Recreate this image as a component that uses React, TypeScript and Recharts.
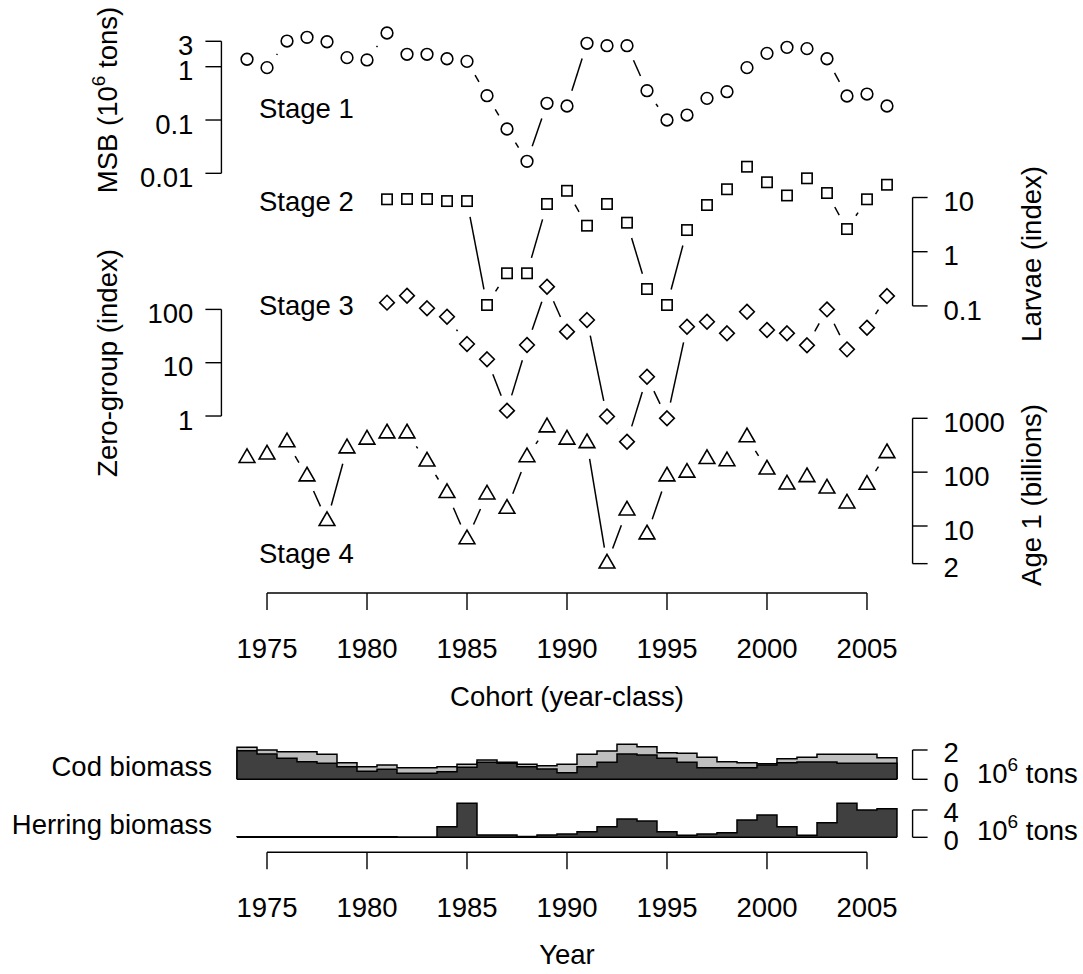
import React from 'react';
import { ComposedChart, Line, Area, XAxis, YAxis, ReferenceLine } from 'recharts';

// ---------- data ----------
const years = [1974, 1975, 1976, 1977, 1978, 1979, 1980, 1981, 1982, 1983, 1984, 1985, 1986, 1987, 1988, 1989, 1990,
  1991, 1992, 1993, 1994, 1995, 1996, 1997, 1998, 1999, 2000, 2001, 2002, 2003, 2004, 2005, 2006];
const laterYears = [1981, 1982, 1983, 1984, 1985, 1986, 1987, 1988, 1989, 1990, 1991, 1992, 1993, 1994, 1995, 1996,
  1997, 1998, 1999, 2000, 2001, 2002, 2003, 2004, 2005, 2006];

// Stage 1: mature stock biomass (10^6 tons)
const msb = [1.38, 0.96, 3.03, 3.56, 2.94, 1.48, 1.34, 4.29, 1.71, 1.71, 1.41, 1.26, 0.286, 0.0678, 0.0168, 0.206,
  0.183, 2.75, 2.48, 2.48, 0.355, 0.1, 0.124, 0.255, 0.34, 0.96, 1.78, 2.31, 2.18, 1.41, 0.282, 0.307, 0.183];
// Stage 2: larvae index (1981-2006)
const larvae = [9.27, 9.38, 9.38, 8.6, 8.6, 0.104, 0.4, 0.4, 7.6, 13.3, 3.02, 7.6, 3.43, 0.205, 0.104, 2.51, 7.27,
  14.2, 37, 19.1, 10.9, 22.6, 12.1, 2.62, 9.27, 17.2];
// Stage 3: zero-group index (1981-2006)
const zeroGroup = [134, 181, 105, 73, 22.4, 11.6, 1.26, 21.5, 267, 38.2, 63.2, 0.98, 0.33, 5.46, 0.905, 47.3, 58.8,
  35.6, 90.5, 41.1, 35.6, 21.2, 100, 17.8, 45.4, 178];
// Stage 4: age 1 (billions)
const age1 = [184, 213, 359, 83.6, 12.4, 277, 403, 525, 525, 158, 41, 5.7, 38.6, 20.9, 190, 681, 403, 346, 2.01,
  19.5, 7.0, 83.6, 98, 176, 160, 445, 112, 59, 81, 49.7, 26.3, 58.4, 226];

// Bottom panels (10^6 tons)
const codTotal = [2.18, 2.0, 1.88, 1.88, 1.71, 1.13, 0.86, 0.98, 0.79, 0.79, 0.86, 1.02, 1.32, 1.16, 1.02, 0.93,
  1.02, 1.71, 1.93, 2.39, 2.23, 1.82, 1.77, 1.5, 1.2, 1.13, 1.06, 1.41, 1.5, 1.71, 1.71, 1.71, 1.47];
const codMature = [1.95, 1.73, 1.43, 1.2, 1.09, 0.86, 0.55, 0.68, 0.41, 0.41, 0.52, 0.82, 1.16, 1.09, 0.86, 0.7,
  0.45, 0.86, 1.16, 1.73, 1.66, 1.43, 1.16, 0.79, 0.79, 0.79, 0.98, 1.13, 1.18, 1.18, 1.09, 1.09, 1.09];
const herring = [0.07, 0.07, 0.07, 0.07, 0.07, 0.07, 0.07, 0.07, 0.01, 0.01, 1.55, 4.98, 0.34, 0.34, 0.1, 0.34,
  0.48, 0.82, 1.55, 2.68, 2.39, 0.82, 0.29, 0.48, 0.67, 2.53, 3.26, 1.55, 0.29, 2.14, 4.98, 4.0, 4.19];

// tick labels
const xTicks = [1975, 1980, 1985, 1990, 1995, 2000, 2005];
const msbTicks = [0.01, 0.1, 1, 3];
const larvaeTicks = [0.1, 1, 10];
const zeroTicks = [1, 10, 100];
const age1Ticks = [2, 10, 100, 1000];
const codTicks = [0, 2];
const herringTicks = [0, 4];

// ---------- axis configuration ----------
const XMIN = 1972.72;
const XMAX = 2007.28;
const S1_DOMAIN = [1.34e-10, 7.52];
const S2_DOMAIN = [5.05e-7, 18836];
const S3_DOMAIN = [4.78e-4, 2.69e7];
const S4_DOMAIN = [0.57, 2.49e10];
const COD_DOMAIN = [-4.983, 3.024];
const HER_DOMAIN = [-2.196, 14.978];

const FONT = '"Liberation Sans", Arial, Helvetica, sans-serif';
const FS = 27.5;
const INK = '#000';
const GAP = 16;
const R0 = 5.85;
const AXW = 0.01;

const series = (xs: number[], vs: number[]) => xs.map((year, i) => ({ year, v: vs[i] }));
const stage1Data = series(years, msb);
const stage2Data = series(laterYears, larvae);
const stage3Data = series(laterYears, zeroGroup);
const stage4Data = series(years, age1);

const stepRows = (vs: number[]) => {
  const rows = [{ year: years[0] - 0.5, v: 0 }];
  years.forEach((y, i) => rows.push({ year: y - 0.5, v: vs[i] }));
  const last = years[years.length - 1] + 0.5;
  rows.push({ year: last, v: vs[vs.length - 1] });
  rows.push({ year: last, v: 0 });
  return rows;
};
const codTotalSteps = stepRows(codTotal);
const codMatureSteps = stepRows(codMature);
const herringSteps = stepRows(herring);

// ---------- markers ----------
type Kind = 'circle' | 'square' | 'diamond' | 'triangle';

function marker(kind: Kind, x: number, y: number) {
  const c = { fill: 'none', stroke: INK, strokeWidth: 1.6 };
  if (kind === 'circle') return <circle cx={x} cy={y} r={R0} {...c} />;
  if (kind === 'square') {
    const h = R0 * 0.886;
    return <rect x={x - h} y={y - h} width={2 * h} height={2 * h} {...c} />;
  }
  if (kind === 'diamond') {
    const h = R0 * 1.253;
    return <polygon points={`${x},${y - h} ${x + h},${y} ${x},${y + h} ${x - h},${y}`} {...c} />;
  }
  const t0 = R0 * 1.5551, t1 = R0 * 1.3468, t2 = R0 * 0.7776;
  return <polygon points={`${x},${y - t0} ${x + t1},${y + t2} ${x - t1},${y + t2}`} {...c} />;
}

function makeDot(kind: Kind) {
  const seen: Array<{ x: number; y: number } | undefined> = [];
  return (props: any) => {
    const { cx, cy, index } = props;
    const key = `${kind}-${index}`;
    if (typeof cx !== 'number' || typeof cy !== 'number' || isNaN(cx) || isNaN(cy)) return <g key={key} />;
    seen[index] = { x: cx, y: cy };
    const pts = props.points;
    let prev: any = undefined;
    if (index > 0) {
      prev = pts && pts[index - 1] && typeof pts[index - 1].x === 'number' ? pts[index - 1] : seen[index - 1];
    }
    let seg = null;
    if (prev) {
      const dx = cx - prev.x, dy = cy - prev.y;
      const d = Math.hypot(dx, dy);
      if (d > 2 * GAP) {
        const ux = dx / d, uy = dy / d;
        seg = (
          <line x1={prev.x + ux * GAP} y1={prev.y + uy * GAP} x2={cx - ux * GAP} y2={cy - uy * GAP}
            stroke={INK} strokeWidth={1.5} />
        );
      }
    }
    return <g key={key}>{seg}{marker(kind, cx, cy)}</g>;
  };
}
const dotCircle = makeDot('circle');
const dotSquare = makeDot('square');
const dotDiamond = makeDot('diamond');
const dotTriangle = makeDot('triangle');

// ---------- ticks ----------
const LeftTick = (p: any) => (
  <text x={p.x} y={p.y} dy="0.5em" textAnchor="end" fontFamily={FONT} fontSize={FS} fill={INK}>
    {p.payload.value}
  </text>
);
const RightTick = (p: any) => (
  <text x={p.x} y={p.y} dy="0.5em" textAnchor="start" fontFamily={FONT} fontSize={FS} fill={INK}>
    {p.payload.value}
  </text>
);
const RightTickLow = (p: any) => (
  <text x={p.x} y={p.y} dy="0.45em" textAnchor="start" fontFamily={FONT} fontSize={FS} fill={INK}>
    {p.payload.value}
  </text>
);
const BottomTick = (p: any) => (
  <text x={p.x} y={p.y} dy="0.72em" textAnchor="middle" fontFamily={FONT} fontSize={FS} fill={INK}>
    {p.payload.value}
  </text>
);

const tl = { stroke: INK, strokeWidth: 1.4 };

function MainChart() {
  const yCommon = {
    type: 'number' as const,
    scale: 'log' as const,
    allowDataOverflow: true,
    interval: 0 as const,
    width: AXW,
    axisLine: false,
    tickLine: tl,
    tickSize: 16,
  };
  return (
    <ComposedChart width={1083} height={700} margin={{ top: 20, right: 170.4, bottom: 47, left: 221.4 }} data={stage1Data}>
      <XAxis dataKey="year" type="number" domain={[XMIN, XMAX]} allowDataOverflow ticks={xTicks} interval={0}
        axisLine={false} tickLine={tl} tickSize={17} tickMargin={28} tick={BottomTick} height={60} />
      <YAxis yAxisId="s1" orientation="left" domain={S1_DOMAIN} ticks={msbTicks} tickMargin={12} tick={LeftTick} {...yCommon} />
      <YAxis yAxisId="s3" orientation="left" domain={S3_DOMAIN} ticks={zeroTicks} tickMargin={12} tick={LeftTick} {...yCommon} />
      <YAxis yAxisId="s2" orientation="right" domain={S2_DOMAIN} ticks={larvaeTicks} tickMargin={16} tick={RightTick} {...yCommon} tickSize={15} />
      <YAxis yAxisId="s4" orientation="right" domain={S4_DOMAIN} ticks={age1Ticks} tickMargin={16} tick={RightTick} {...yCommon} tickSize={15} />

      <ReferenceLine yAxisId="s4" segment={[{ x: xTicks[0], y: S4_DOMAIN[0] }, { x: xTicks[xTicks.length - 1], y: S4_DOMAIN[0] }]} stroke={INK} strokeWidth={1.4} ifOverflow="visible" />
      <ReferenceLine yAxisId="s1" segment={[{ x: XMIN, y: msbTicks[0] }, { x: XMIN, y: msbTicks[msbTicks.length - 1] }]} stroke={INK} strokeWidth={1.4} ifOverflow="visible" />
      <ReferenceLine yAxisId="s3" segment={[{ x: XMIN, y: zeroTicks[0] }, { x: XMIN, y: zeroTicks[zeroTicks.length - 1] }]} stroke={INK} strokeWidth={1.4} ifOverflow="visible" />
      <ReferenceLine yAxisId="s2" segment={[{ x: XMAX, y: larvaeTicks[0] }, { x: XMAX, y: larvaeTicks[larvaeTicks.length - 1] }]} stroke={INK} strokeWidth={1.4} ifOverflow="visible" />
      <ReferenceLine yAxisId="s4" segment={[{ x: XMAX, y: age1Ticks[0] }, { x: XMAX, y: age1Ticks[age1Ticks.length - 1] }]} stroke={INK} strokeWidth={1.4} ifOverflow="visible" />

      <Line yAxisId="s1" data={stage1Data} dataKey="v" stroke="none" dot={dotCircle} activeDot={false} isAnimationActive={false} />
      <Line yAxisId="s2" data={stage2Data} dataKey="v" stroke="none" dot={dotSquare} activeDot={false} isAnimationActive={false} />
      <Line yAxisId="s3" data={stage3Data} dataKey="v" stroke="none" dot={dotDiamond} activeDot={false} isAnimationActive={false} />
      <Line yAxisId="s4" data={stage4Data} dataKey="v" stroke="none" dot={dotTriangle} activeDot={false} isAnimationActive={false} />
    </ComposedChart>
  );
}

function BiomassChart() {
  const yCommon = {
    type: 'number' as const,
    allowDataOverflow: true,
    interval: 0 as const,
    width: AXW,
    axisLine: false,
    tickLine: tl,
    tickSize: 15,
    tickMargin: 16,
    orientation: 'right' as const,
    tick: RightTickLow,
  };
  const x0 = years[0] - 0.5;
  const x1 = years[years.length - 1] + 0.5;
  return (
    <ComposedChart width={1083} height={274} margin={{ top: 35, right: 170.4, bottom: 61.7, left: 221.4 }} data={codTotalSteps}>
      <XAxis dataKey="year" type="number" domain={[XMIN, XMAX]} allowDataOverflow ticks={xTicks} interval={0}
        axisLine={false} tickLine={tl} tickSize={17} tickMargin={28} tick={BottomTick} height={60} />
      <YAxis yAxisId="cod" domain={COD_DOMAIN} ticks={codTicks} {...yCommon} />
      <YAxis yAxisId="her" domain={HER_DOMAIN} ticks={herringTicks} {...yCommon} />

      <Area yAxisId="cod" data={codTotalSteps} dataKey="v" type="stepAfter" baseValue={0} fill="#bfbfbf" fillOpacity={1}
        stroke={INK} strokeWidth={1.5} dot={false} activeDot={false} isAnimationActive={false} />
      <Area yAxisId="cod" data={codMatureSteps} dataKey="v" type="stepAfter" baseValue={0} fill="#404040" fillOpacity={1}
        stroke={INK} strokeWidth={1.5} dot={false} activeDot={false} isAnimationActive={false} />
      <Area yAxisId="her" data={herringSteps} dataKey="v" type="stepAfter" baseValue={0} fill="#404040" fillOpacity={1}
        stroke={INK} strokeWidth={1.5} dot={false} activeDot={false} isAnimationActive={false} />

      <ReferenceLine yAxisId="cod" segment={[{ x: x0, y: 0 }, { x: x1, y: 0 }]} stroke={INK} strokeWidth={1.5} ifOverflow="visible" />
      <ReferenceLine yAxisId="her" segment={[{ x: x0, y: 0 }, { x: x1, y: 0 }]} stroke={INK} strokeWidth={1.5} ifOverflow="visible" />
      <ReferenceLine yAxisId="cod" segment={[{ x: XMAX, y: codTicks[0] }, { x: XMAX, y: codTicks[1] }]} stroke={INK} strokeWidth={1.4} ifOverflow="visible" />
      <ReferenceLine yAxisId="her" segment={[{ x: XMAX, y: herringTicks[0] }, { x: XMAX, y: herringTicks[1] }]} stroke={INK} strokeWidth={1.4} ifOverflow="visible" />
      <ReferenceLine yAxisId="her" segment={[{ x: xTicks[0], y: HER_DOMAIN[0] }, { x: xTicks[xTicks.length - 1], y: HER_DOMAIN[0] }]} stroke={INK} strokeWidth={1.4} ifOverflow="visible" />
    </ComposedChart>
  );
}

const T = (props: any) => <text fontFamily={FONT} fontSize={FS} fill={INK} {...props} />;

function Tons({ x, y }: { x: number; y: number }) {
  return (
    <T x={x} y={y}>
      <tspan>10</tspan>
      <tspan dy={-12} fontSize={19}>6</tspan>
      <tspan dy={12}> tons</tspan>
    </T>
  );
}

export default function App() {
  return (
    <div style={{ position: 'absolute', left: 0, top: 0, width: 1083, height: 974, background: '#fff' }}>
      <div style={{ position: 'absolute', left: 0, top: 0 }}>
        <MainChart />
      </div>
      <div style={{ position: 'absolute', left: 0, top: 700 }}>
        <BiomassChart />
      </div>
      <svg width={1083} height={974} style={{ position: 'absolute', left: 0, top: 0, pointerEvents: 'none' }}>
        <T x={259} y={118.3}>Stage 1</T>
        <T x={259} y={210.7}>Stage 2</T>
        <T x={259} y={315}>Stage 3</T>
        <T x={259} y={563.3}>Stage 4</T>

        <T x={116.5} y={100} textAnchor="middle" transform="rotate(-90 116.5 100)">
          <tspan>MSB (10</tspan>
          <tspan dy={-12} fontSize={19}>6</tspan>
          <tspan dy={12}> tons)</tspan>
        </T>
        <T x={116.5} y={363} textAnchor="middle" transform="rotate(-90 116.5 363)">Zero-group (index)</T>
        <T x={1041} y={254} textAnchor="middle" transform="rotate(-90 1041 254)">Larvae (index)</T>
        <T x={1041} y={495} textAnchor="middle" transform="rotate(-90 1041 495)">Age 1 (billions)</T>

        <T x={567} y={706} textAnchor="middle">Cohort (year-class)</T>

        <T x={212} y={776} textAnchor="end">Cod biomass</T>
        <T x={212} y={834} textAnchor="end">Herring biomass</T>
        <Tons x={977} y={783} />
        <Tons x={977} y={840} />
        <T x={567} y={964} textAnchor="middle">Year</T>
      </svg>
    </div>
  );
}
